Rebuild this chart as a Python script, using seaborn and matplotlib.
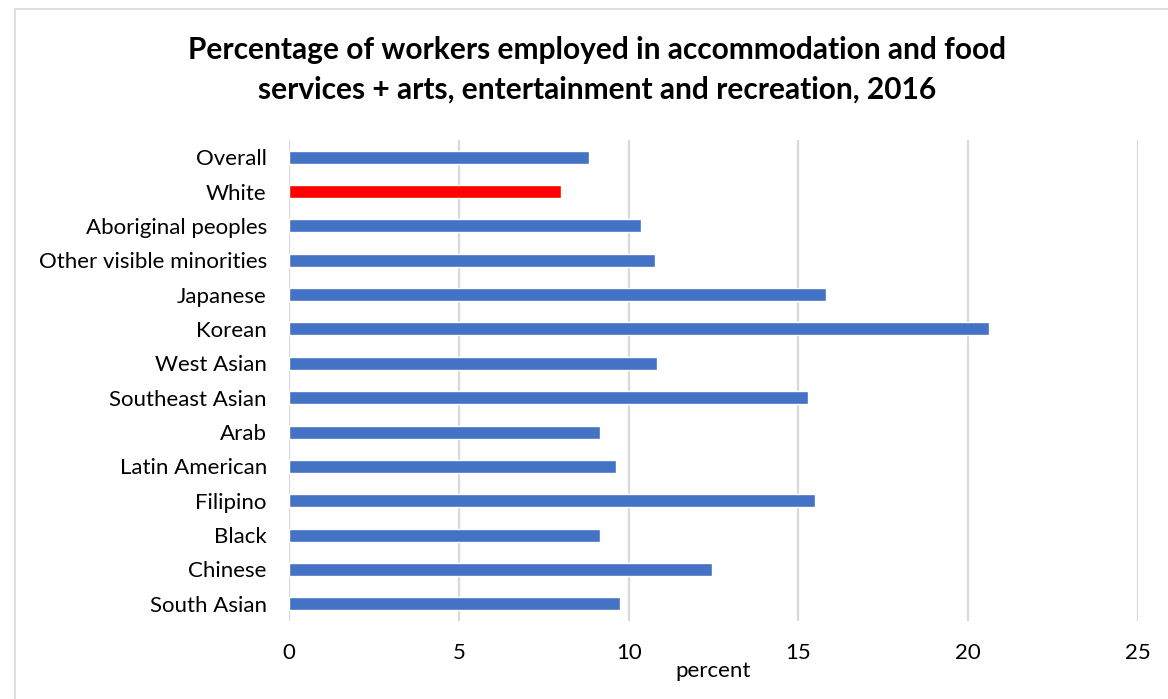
import matplotlib
matplotlib.use("Agg")
import matplotlib.pyplot as plt
import seaborn as sns
import pandas as pd
from matplotlib.patches import Rectangle

# Share of workers in accommodation/food services + arts/entertainment/recreation, 2016
groups = [
    "Overall", "White", "Aboriginal peoples", "Other visible minorities",
    "Japanese", "Korean", "West Asian", "Southeast Asian", "Arab",
    "Latin American", "Filipino", "Black", "Chinese", "South Asian",
]
percent = [
    8.83, 8.01, 10.37, 10.78,
    15.80, 20.62, 10.84, 15.27, 9.17,
    9.62, 15.50, 9.16, 12.45, 9.74,
]
highlight = ["White"]
x_ticks = [0, 5, 10, 15, 20, 25]

BLUE = "#4472C4"
RED = "#FF0000"

df = pd.DataFrame({"group": groups, "percent": percent})
df["kind"] = ["highlight" if g in highlight else "base" for g in groups]

sns.set_theme(style="white")
plt.rcParams["font.family"] = ["Lato", "DejaVu Sans"]

fig = plt.figure(figsize=(11.68, 6.99), dpi=100)
ax = fig.add_axes([289 / 1168, 1 - 621 / 699, (1138 - 289) / 1168, (621 - 140) / 699])

sns.barplot(
    data=df, x="percent", y="group", hue="kind",
    palette={"base": BLUE, "highlight": RED},
    order=groups, orient="h", width=0.38, dodge=False,
    legend=False, ax=ax, saturation=1,
)

ax.set_xlim(0, 25)
ax.set_xticks(x_ticks)
ax.set_xticklabels([str(t) for t in x_ticks])
ax.grid(axis="x", color="#d9d9d9", linewidth=1.6)
ax.set_axisbelow(True)
for s in ax.spines.values():
    s.set_visible(False)
ax.tick_params(axis="x", length=0, pad=16, labelsize=16, labelcolor="#000000")
ax.tick_params(axis="y", length=0, pad=16, labelsize=16, labelcolor="#000000")
ax.set_ylabel("")
ax.set_xlabel("percent", fontsize=16, color="#000000", labelpad=-1.5)

fig.text(
    0.511, 1 - 70 / 699,
    "Percentage of workers employed in accommodation and food\n"
    "services + arts, entertainment and recreation, 2016",
    ha="center", va="center", fontsize=21.5, fontweight="bold",
    linespacing=1.5, color="#000000",
)

# chart frame
fig.patches.append(Rectangle(
    (15 / 1168, -0.05), 1.2, 1 - 9 / 699 + 0.05,
    transform=fig.transFigure, fill=False, edgecolor="#d9d9d9",
    linewidth=1.2, zorder=0,
))

fig.savefig("out.png", dpi=100, facecolor="white")
